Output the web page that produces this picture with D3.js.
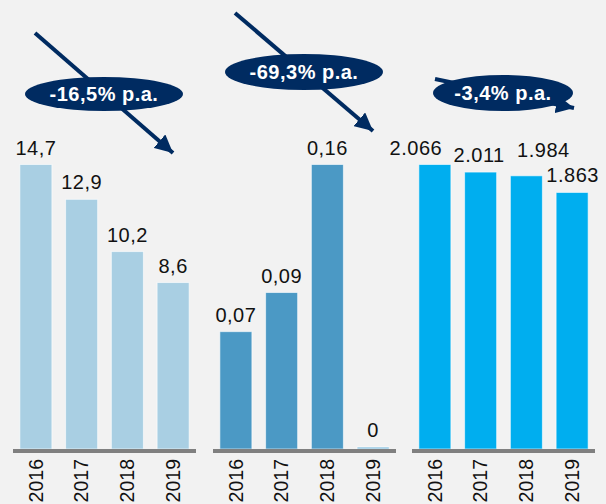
<!DOCTYPE html>
<html>
<head>
<meta charset="utf-8">
<script src="https://cdn.jsdelivr.net/npm/d3@7"></script>
<style>
html,body{margin:0;padding:0;background:#f2f2f2;}
svg{display:block;font-family:Arial,"Liberation Sans",sans-serif;}
</style>
</head>
<body>
<svg id="chart" width="606" height="504"></svg>
<script>
const years = ["2016", "2017", "2018", "2019"];
const valuesA = [14.7, 12.9, 10.2, 8.6];
const valuesB = [0.066, 0.088, 0.16, 0];
const valuesC = [2066, 2011, 1984, 1863];
const decimals = [1, 2, 0];
const cagrLabels = ["-16,5% p.a.", "-69,3% p.a.", "-3,4% p.a."];
const colors = ["#a9cfe3", "#4b99c5", "#00aeef"];

const locale = d3.formatLocale({decimal: ",", thousands: ".", grouping: [3], currency: ["", "€"]});

const svg = d3.select("#chart");
const navy = "#002b61";
svg.append("rect").attr("width", 606).attr("height", 504).attr("fill", "#f2f2f2");

const defs = svg.append("defs");
defs.append("marker").attr("id", "ah").attr("viewBox", "0 0 10 10")
  .attr("refX", 10).attr("refY", 5).attr("markerWidth", 4.5).attr("markerHeight", 4.5)
  .attr("markerUnits", "strokeWidth").attr("orient", "auto")
  .append("path").attr("d", "M0,0 L10,5 L0,10 Z").attr("fill", navy);

const baseY = 449;
const topY = 164.5;
// label nudges (layout) for the third panel, as placed in the original
const nudges = [
  [[0,0],[0,0],[0,0],[0,0]],
  [[0,0],[0,0],[0,0],[0,0]],
  [[-19,0],[-1.5,0],[17,-9],[0.5,0]]
];
const panels = [
  {vals: valuesA, x0: 13, x1: 196, arrow: [[35, 33], [173, 153]], ell: [104, 94, 79, 17]},
  {vals: valuesB, x0: 213, x1: 396, arrow: [[235, 13], [373, 131]], ell: [304, 72, 79, 18]},
  {vals: valuesC, x0: 412, x1: 595, arrow: [[435, 79], [574, 108]], ell: [503, 93, 70, 18]}
];

panels.forEach((p, i) => {
  const g = svg.append("g");
  const x = d3.scaleBand().domain(years).range([p.x0, p.x1]).paddingInner(0.3).paddingOuter(0.15);
  const y = d3.scaleLinear().domain([0, d3.max(p.vals)]).range([baseY, topY]);
  const fmt = locale.format(",." + decimals[i] + "f");
  const data = years.map((yr, k) => ({yr, v: p.vals[k], n: nudges[i][k]}));

  g.selectAll("rect.bar").data(data).join("rect").attr("class", "bar")
    .attr("x", d => x(d.yr)).attr("width", x.bandwidth())
    .attr("y", d => Math.min(y(d.v), baseY - 2))
    .attr("height", d => Math.max(baseY - y(d.v), 2))
    .attr("fill", d => d.v === 0 ? "#8fc3e0" : colors[i])
    .attr("stroke", "#ffffff").attr("stroke-opacity", 0.6).attr("stroke-width", 1);

  g.selectAll("text.val").data(data).join("text").attr("class", "val")
    .attr("x", d => x(d.yr) + x.bandwidth() / 2 + d.n[0])
    .attr("y", d => Math.min(y(d.v), baseY - 2) - 10 + d.n[1])
    .attr("text-anchor", "middle").attr("font-size", 20).attr("letter-spacing", 0.5).attr("fill", "#111")
    .text(d => d.v === 0 ? "0" : fmt(d.v));

  // axis
  const axis = d3.axisBottom(x).tickSize(0).tickPadding(0);
  const ax = g.append("g").attr("transform", `translate(0,${baseY + 2})`).call(axis);
  ax.select(".domain").attr("stroke", "#808080").attr("stroke-width", 4).attr("d", `M${p.x0},0H${p.x1}`);
  ax.selectAll(".tick text")
    .attr("font-size", 19.5).attr("fill", "#111").attr("font-family", "Arial, 'Liberation Sans', sans-serif")
    .attr("text-anchor", "end").attr("dy", "0.35em").attr("y", 0)
    .attr("transform", "translate(0,8) rotate(-90)");

  // CAGR annotation
  svg.append("line").attr("x1", p.arrow[0][0]).attr("y1", p.arrow[0][1])
    .attr("x2", p.arrow[1][0]).attr("y2", p.arrow[1][1])
    .attr("stroke", navy).attr("stroke-width", 4).attr("marker-end", "url(#ah)");
  svg.append("ellipse").attr("cx", p.ell[0]).attr("cy", p.ell[1]).attr("rx", p.ell[2]).attr("ry", p.ell[3])
    .attr("fill", navy);
  svg.append("text").attr("x", p.ell[0]).attr("y", p.ell[1]).attr("dy", "0.35em")
    .attr("text-anchor", "middle").attr("font-size", 20).attr("font-weight", "bold")
    .attr("letter-spacing", 0.5).attr("fill", "#fff")
    .text(cagrLabels[i]);
});
</script>
</body>
</html>
